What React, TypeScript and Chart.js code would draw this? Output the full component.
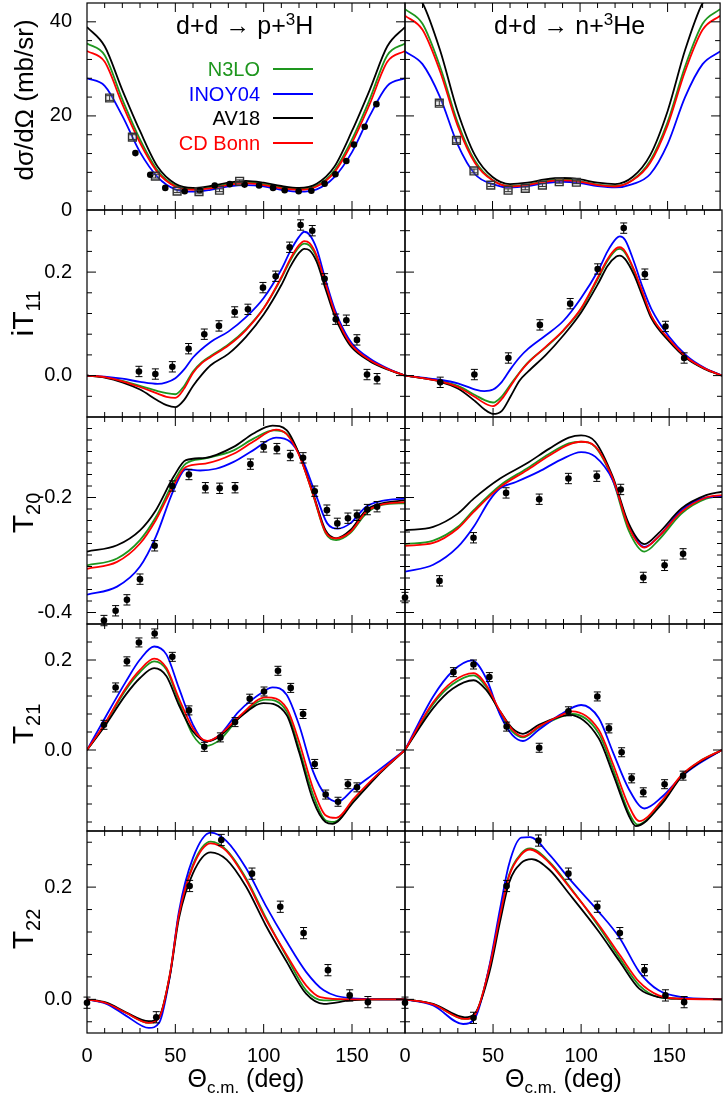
import React, { useEffect, useRef } from "react";
import { Chart, registerables } from "chart.js";

Chart.register(...registerables);

type Pt = [number, number];
type DPt = [number, number, number];
type Part = { t: string; s: number; dy?: number };

const FONT = "'Liberation Sans', Arial, Helvetica, sans-serif";
const COLORS = { n3lo: "#1e961e", inoy: "#0000ff", av18: "#000000", cdb: "#ff0000" };
const MODEL_NAMES = ["N3LO", "INOY04", "AV18", "CD Bonn"];
const MODEL_COLORS = [COLORS.n3lo, COLORS.inoy, COLORS.av18, COLORS.cdb];

// ---------- x axis ----------
const X_MIN = 0;
const X_MAX = 180;
const X_MAJOR = [0, 50, 100, 150];
const X_LABELS = ["0", "50", "100", "150"];
const X_MINOR_STEP = 10;

// ---------- y axes (per row) ----------
const Y_RANGE_XS = [0, 44];
const Y_MAJOR_XS = [0, 20, 40];
const Y_LABELS_XS = ["0", "20", "40"];
const Y_RANGE_IT11 = [-0.08, 0.32];
const Y_MAJOR_IT11 = [0, 0.2];
const Y_LABELS_IT11 = ["0.0", "0.2"];
const Y_RANGE_T20 = [-0.42, -0.06];
const Y_MAJOR_T20 = [-0.4, -0.2];
const Y_LABELS_T20 = ["-0.4", "-0.2"];
const Y_RANGE_T21 = [-0.18, 0.28];
const Y_MAJOR_T21 = [0, 0.2];
const Y_LABELS_T21 = ["0.0", "0.2"];
const Y_RANGE_T22 = [-0.06, 0.3];
const Y_MAJOR_T22 = [0, 0.2];
const Y_LABELS_T22 = ["0.0", "0.2"];

// ---------- cross sections: d+d -> p+3H ----------
const XS_PH_N3LO: Pt[] = [[0,35.4],[10,32.9],[20,23.5],[30,15.0],[40,8.4],[50,5.2],[60,4.5],[70,4.8],[80,5.5],[90,5.9],[100,5.5],[110,4.8],[120,4.5],[130,5.2],[140,8.4],[150,15.0],[160,23.5],[170,32.9],[180,35.4]];
const XS_PH_INOY: Pt[] = [[0,28.0],[10,26.4],[20,20.0],[30,12.3],[40,7.0],[50,4.4],[60,3.9],[70,4.3],[80,5.0],[90,5.3],[100,5.0],[110,4.3],[120,3.9],[130,4.4],[140,7.0],[150,12.3],[160,20.0],[170,26.4],[180,28.0]];
const XS_PH_AV18: Pt[] = [[0,38.9],[10,34.8],[20,25.5],[30,16.8],[40,9.2],[50,5.6],[60,4.7],[70,5.1],[80,5.8],[90,6.2],[100,5.8],[110,5.1],[120,4.7],[130,5.6],[140,9.2],[150,16.8],[160,25.5],[170,34.8],[180,38.9]];
const XS_PH_CDB: Pt[] = [[0,33.8],[10,31.5],[20,22.5],[30,14.3],[40,8.0],[50,5.0],[60,4.3],[70,4.6],[80,5.3],[90,5.7],[100,5.3],[110,4.6],[120,4.3],[130,5.0],[140,8.0],[150,14.3],[160,22.5],[170,31.5],[180,33.8]];
const XS_PH_SQ: DPt[] = [[12.8,23.8,0.5],[25.7,15.5,0.5],[38.7,7.2,0.4],[51,4.0,0.3],[63.4,3.9,0.3],[75,4.2,0.3],[86.4,6.1,0.3]];
const XS_PH_CI: DPt[] = [[27.4,12.1,0],[35.8,7.5,0],[44.3,4.7,0],[55.3,4.0,0],[63.8,4.2,0],[72.3,5.2,0],[80.8,5.5,0],[89.2,5.4,0],[97.4,5.2,0],[105.3,4.7,0],[111.9,4.2,0],[119.8,4.0,0],[127,4.1,0],[134.5,5.6,0],[140.6,7.6,0],[146.8,10.4,0],[151.1,13.9,0],[157.2,17.7,0],[163.8,22.5,0]];

// ---------- cross sections: d+d -> n+3He ----------
const XS_NH_N3LO: Pt[] = [[0,42.7],[10,39.6],[20,30.5],[30,18.7],[40,10.4],[50,6.4],[60,5.1],[70,5.4],[80,6.1],[90,6.5],[100,6.1],[110,5.4],[120,5.1],[130,6.4],[140,10.4],[150,18.7],[160,30.5],[170,39.6],[180,42.7]];
const XS_NH_INOY: Pt[] = [[0,33.7],[10,31.0],[20,24.0],[30,14.0],[40,7.6],[50,5.5],[60,4.8],[70,5.1],[80,5.7],[90,6.0],[100,5.7],[110,5.1],[120,4.8],[130,5.5],[140,7.6],[150,14.0],[160,24.0],[170,31.0],[180,33.7]];
const XS_NH_AV18: Pt[] = [[0,48.0],[10,44.0],[20,34.0],[30,21.0],[40,11.6],[50,7.0],[60,5.5],[70,5.8],[80,6.5],[90,6.8],[100,6.5],[110,5.8],[120,5.5],[130,7.0],[140,11.6],[150,21.0],[160,34.0],[170,44.0],[180,48.0]];
const XS_NH_CDB: Pt[] = [[0,41.3],[10,38.3],[20,29.5],[30,18.0],[40,10.0],[50,6.3],[60,5.0],[70,5.3],[80,6.0],[90,6.3],[100,6.0],[110,5.3],[120,5.0],[130,6.3],[140,10.0],[150,18.0],[160,29.5],[170,38.3],[180,41.3]];
const XS_NH_SQ: DPt[] = [[19.6,22.7,0.5],[29.4,14.8,0.5],[39.4,8.3,0.4],[49,5.3,0.3],[58.9,4.2,0.3],[68.7,4.6,0.3],[78.5,5.3,0.3],[88.1,6.0,0.3],[97.9,5.9,0.3]];

// ---------- iT11: p+3H ----------
const IT11_PH_N3LO: Pt[] = [[0,0],[10,-0.003],[20,-0.010],[30,-0.020],[40,-0.030],[45,-0.034],[50,-0.036],[55,-0.020],[60,0.008],[65,0.026],[70,0.038],[80,0.060],[90,0.090],[100,0.130],[110,0.188],[115,0.222],[120,0.248],[123,0.255],[126,0.251],[130,0.228],[135,0.175],[140,0.122],[145,0.084],[150,0.057],[160,0.030],[170,0.013],[180,0]];
const IT11_PH_INOY: Pt[] = [[0,0],[10,-0.002],[20,-0.006],[30,-0.012],[40,-0.016],[45,-0.013],[50,-0.005],[55,0.012],[60,0.035],[70,0.065],[80,0.085],[90,0.113],[100,0.150],[110,0.205],[115,0.240],[120,0.268],[123,0.278],[126,0.272],[130,0.245],[135,0.185],[140,0.130],[145,0.090],[150,0.062],[160,0.033],[170,0.014],[180,0]];
const IT11_PH_AV18: Pt[] = [[0,0],[10,-0.004],[20,-0.013],[30,-0.027],[40,-0.048],[45,-0.057],[50,-0.061],[55,-0.047],[60,-0.020],[65,0.002],[70,0.020],[80,0.042],[90,0.075],[100,0.118],[110,0.175],[115,0.210],[120,0.237],[123,0.245],[126,0.242],[130,0.220],[135,0.168],[140,0.117],[145,0.080],[150,0.054],[160,0.028],[170,0.012],[180,0]];
const IT11_PH_CDB: Pt[] = [[0,0],[10,-0.003],[20,-0.011],[30,-0.022],[40,-0.035],[45,-0.041],[50,-0.043],[55,-0.025],[60,0.005],[65,0.024],[70,0.036],[80,0.058],[90,0.088],[100,0.130],[110,0.190],[115,0.225],[120,0.252],[123,0.260],[126,0.256],[130,0.232],[135,0.178],[140,0.124],[145,0.085],[150,0.058],[160,0.030],[170,0.013],[180,0]];
const IT11_PH_DATA: DPt[] = [[29.4,0.008,0.01],[38.7,0.003,0.01],[48.3,0.017,0.01],[57.5,0.052,0.01],[66.4,0.080,0.01],[74.7,0.096,0.01],[83.6,0.123,0.01],[91.1,0.128,0.01],[99.6,0.170,0.01],[106.8,0.192,0.01],[114.7,0.248,0.01],[120.9,0.291,0.01],[127.5,0.280,0.01],[134.5,0.187,0.01],[140.8,0.109,0.01],[146.8,0.107,0.01],[152.8,0.069,0.01],[158.5,0.002,0.01],[164.2,-0.006,0.01]];

// ---------- iT11: n+3He ----------
const IT11_NH_N3LO: Pt[] = [[0,0],[10,-0.005],[20,-0.010],[30,-0.020],[40,-0.038],[45,-0.047],[50,-0.052],[55,-0.040],[60,-0.017],[65,0.006],[70,0.026],[80,0.055],[90,0.087],[100,0.128],[110,0.190],[115,0.222],[120,0.243],[122,0.245],[125,0.237],[130,0.203],[135,0.158],[140,0.114],[150,0.069],[160,0.035],[170,0.014],[180,0]];
const IT11_NH_INOY: Pt[] = [[0,0],[10,-0.004],[20,-0.008],[30,-0.015],[40,-0.027],[45,-0.030],[50,-0.027],[55,-0.012],[60,0.013],[65,0.035],[70,0.052],[80,0.078],[90,0.106],[100,0.150],[110,0.205],[115,0.240],[120,0.265],[122,0.269],[125,0.262],[130,0.220],[135,0.170],[140,0.128],[150,0.075],[160,0.038],[170,0.015],[180,0]];
const IT11_NH_AV18: Pt[] = [[0,0],[10,-0.005],[20,-0.012],[30,-0.025],[40,-0.050],[45,-0.065],[50,-0.074],[55,-0.068],[60,-0.040],[65,-0.010],[70,0.008],[80,0.040],[90,0.078],[100,0.122],[110,0.180],[115,0.212],[120,0.230],[122,0.232],[125,0.225],[130,0.195],[135,0.152],[140,0.110],[150,0.066],[160,0.033],[170,0.013],[180,0]];
const IT11_NH_CDB: Pt[] = [[0,0],[10,-0.005],[20,-0.011],[30,-0.022],[40,-0.042],[45,-0.053],[50,-0.059],[55,-0.045],[60,-0.020],[65,0.005],[70,0.025],[80,0.056],[90,0.088],[100,0.130],[110,0.193],[115,0.225],[120,0.246],[122,0.248],[125,0.240],[130,0.205],[135,0.160],[140,0.115],[150,0.070],[160,0.035],[170,0.014],[180,0]];
const IT11_NH_DATA: DPt[] = [[20,-0.013,0.01],[39.4,0.002,0.01],[58.7,0.034,0.01],[76.6,0.098,0.01],[93.8,0.139,0.01],[109.4,0.206,0.01],[124.2,0.285,0.01],[136.2,0.196,0.01],[147.9,0.095,0.01],[158.5,0.034,0.01]];

// ---------- T20: p+3H ----------
const T20_PH_N3LO: Pt[] = [[0,-0.318],[17,-0.306],[30,-0.274],[39,-0.234],[49,-0.173],[56,-0.141],[67,-0.132],[83,-0.118],[94,-0.098],[106,-0.083],[113,-0.089],[120,-0.124],[128,-0.196],[135,-0.262],[141,-0.274],[149,-0.262],[158,-0.228],[167,-0.213],[180,-0.210]];
const T20_PH_INOY: Pt[] = [[0,-0.369],[17,-0.355],[30,-0.320],[39,-0.268],[49,-0.187],[56,-0.151],[64,-0.153],[73,-0.150],[83,-0.138],[94,-0.118],[107,-0.096],[115,-0.103],[122,-0.135],[130,-0.199],[136,-0.245],[142,-0.254],[149,-0.245],[158,-0.216],[167,-0.206],[180,-0.202]];
const T20_PH_AV18: Pt[] = [[0,-0.294],[17,-0.283],[30,-0.257],[39,-0.222],[49,-0.164],[56,-0.135],[67,-0.131],[83,-0.112],[94,-0.089],[105,-0.075],[113,-0.083],[120,-0.124],[128,-0.193],[135,-0.257],[141,-0.271],[149,-0.257],[158,-0.222],[167,-0.210],[180,-0.205]];
const T20_PH_CDB: Pt[] = [[0,-0.324],[17,-0.312],[30,-0.280],[39,-0.239],[49,-0.179],[56,-0.147],[67,-0.141],[83,-0.124],[94,-0.103],[107,-0.082],[113,-0.090],[120,-0.126],[128,-0.195],[135,-0.260],[141,-0.271],[149,-0.260],[158,-0.225],[167,-0.212],[180,-0.208]];
const T20_PH_DATA: DPt[] = [[9.6,-0.414,0.009],[16.2,-0.397,0.009],[22.6,-0.378,0.009],[30,-0.342,0.009],[38.3,-0.284,0.009],[48.3,-0.180,0.009],[57.7,-0.160,0.009],[67,-0.183,0.009],[75.1,-0.184,0.009],[83.8,-0.183,0.009],[92.5,-0.142,0.009],[100,-0.112,0.009],[107.5,-0.115,0.009],[115.1,-0.127,0.009],[122.3,-0.131,0.009],[128.9,-0.189,0.009],[135.8,-0.222,0.009],[141.7,-0.245,0.009],[147.7,-0.236,0.009],[152.8,-0.231,0.009],[158.7,-0.221,0.009],[164.2,-0.216,0.009]];

// ---------- T20: n+3He ----------
const T20_NH_N3LO: Pt[] = [[0,-0.281],[16,-0.275],[30,-0.251],[39,-0.222],[54,-0.179],[69,-0.150],[82,-0.124],[93,-0.106],[100,-0.103],[108,-0.112],[118,-0.170],[127,-0.257],[136,-0.294],[144,-0.274],[157,-0.228],[171,-0.202],[180,-0.198]];
const T20_NH_INOY: Pt[] = [[0,-0.329],[16,-0.317],[30,-0.286],[39,-0.251],[48,-0.205],[54,-0.184],[63,-0.173],[76,-0.155],[88,-0.135],[100,-0.121],[108,-0.129],[118,-0.170],[127,-0.248],[136,-0.286],[144,-0.268],[157,-0.222],[171,-0.200],[180,-0.198]];
const T20_NH_AV18: Pt[] = [[0,-0.257],[16,-0.251],[30,-0.228],[39,-0.202],[54,-0.167],[69,-0.141],[82,-0.115],[93,-0.096],[100,-0.092],[108,-0.103],[118,-0.164],[127,-0.245],[136,-0.281],[144,-0.262],[157,-0.219],[171,-0.196],[180,-0.190]];
const T20_NH_CDB: Pt[] = [[0,-0.284],[16,-0.279],[30,-0.254],[39,-0.225],[54,-0.182],[69,-0.153],[82,-0.127],[93,-0.108],[100,-0.103],[108,-0.111],[118,-0.167],[127,-0.251],[136,-0.287],[144,-0.268],[157,-0.225],[171,-0.200],[180,-0.196]];
const T20_NH_DATA: DPt[] = [[0,-0.374,0.009],[19.6,-0.345,0.009],[38.9,-0.270,0.009],[57.4,-0.192,0.009],[76.2,-0.203,0.009],[92.8,-0.167,0.009],[108.9,-0.163,0.009],[122.5,-0.186,0.009],[135.3,-0.339,0.009],[147.4,-0.318,0.009],[157.9,-0.298,0.009]];

// ---------- T21: p+3H ----------
const T21_PH_N3LO: Pt[] = [[0,0],[9,0.050],[22,0.134],[30,0.173],[38,0.197],[45,0.178],[52,0.108],[60,0.033],[67,0.009],[75,0.022],[86,0.071],[101,0.112],[113,0.086],[120,0.004],[128,-0.100],[135,-0.156],[140,-0.160],[151,-0.112],[164,-0.057],[180,0]];
const T21_PH_INOY: Pt[] = [[0,0],[9,0.063],[22,0.152],[30,0.201],[38,0.230],[45,0.212],[52,0.138],[60,0.056],[67,0.019],[75,0.033],[86,0.086],[100,0.130],[105,0.139],[113,0.123],[120,0.056],[128,-0.048],[135,-0.100],[142,-0.115],[151,-0.086],[164,-0.048],[180,0]];
const T21_PH_AV18: Pt[] = [[0,0],[9,0.047],[22,0.123],[30,0.160],[38,0.182],[45,0.164],[52,0.100],[60,0.041],[68,0.019],[75,0.030],[86,0.071],[100,0.104],[113,0.078],[120,-0.004],[128,-0.112],[135,-0.160],[139,-0.164],[151,-0.115],[164,-0.059],[180,0]];
const T21_PH_CDB: Pt[] = [[0,0],[9,0.052],[22,0.138],[30,0.178],[38,0.203],[45,0.182],[52,0.115],[60,0.048],[68,0.020],[75,0.033],[86,0.074],[101,0.117],[113,0.093],[120,0.019],[128,-0.086],[135,-0.145],[141,-0.151],[151,-0.108],[164,-0.056],[180,0]];
const T21_PH_DATA: DPt[] = [[9.6,0.056,0.01],[16.2,0.139,0.01],[22.6,0.197,0.01],[29.4,0.239,0.01],[38.3,0.259,0.01],[48.3,0.207,0.01],[57.7,0.088,0.01],[66.4,0.007,0.01],[75.5,0.028,0.01],[83.8,0.062,0.01],[92.1,0.114,0.01],[100.2,0.130,0.01],[108.1,0.176,0.01],[115.3,0.138,0.01],[122.3,0.080,0.01],[128.9,-0.031,0.01],[135.1,-0.099,0.01],[142.1,-0.115,0.01],[147.7,-0.076,0.01],[152.8,-0.083,0.01]];

// ---------- T21: n+3He ----------
const T21_NH_N3LO: Pt[] = [[0,0],[16,0.102],[27,0.146],[39,0.166],[46,0.141],[54,0.082],[61,0.041],[67,0.028],[76,0.050],[88,0.073],[95,0.080],[110,0.037],[118,-0.041],[127,-0.138],[132,-0.166],[146,-0.115],[157,-0.057],[167,-0.026],[180,0]];
const T21_NH_INOY: Pt[] = [[0,0],[16,0.119],[27,0.175],[38,0.199],[46,0.160],[54,0.078],[61,0.033],[67,0.020],[76,0.045],[88,0.078],[100,0.100],[110,0.071],[118,-0.004],[127,-0.086],[136,-0.130],[146,-0.104],[157,-0.059],[167,-0.030],[180,0]];
const T21_NH_AV18: Pt[] = [[0,0],[16,0.093],[27,0.136],[39,0.155],[46,0.134],[54,0.086],[61,0.048],[67,0.036],[76,0.056],[88,0.074],[93,0.078],[110,0.026],[118,-0.052],[127,-0.145],[131,-0.169],[146,-0.119],[157,-0.059],[167,-0.028],[180,0]];
const T21_NH_CDB: Pt[] = [[0,0],[16,0.106],[27,0.152],[39,0.171],[46,0.145],[54,0.086],[61,0.045],[67,0.030],[76,0.052],[88,0.076],[95,0.086],[110,0.045],[118,-0.030],[127,-0.123],[133,-0.158],[146,-0.112],[157,-0.056],[167,-0.026],[180,0]];
const T21_NH_DATA: DPt[] = [[27.5,0.173,0.01],[38.9,0.190,0.01],[47.9,0.162,0.01],[57.7,0.052,0.01],[76.2,0.005,0.01],[92.8,0.086,0.01],[109.2,0.119,0.01],[115.8,0.048,0.01],[123,-0.005,0.01],[128.7,-0.063,0.01],[135.3,-0.094,0.01],[147.4,-0.076,0.01],[157.9,-0.057,0.01]];

// ---------- T22: p+3H ----------
const T22_PH_N3LO: Pt[] = [[0,0],[11,-0.007],[22,-0.024],[35,-0.042],[41,-0.032],[47,0.046],[52,0.150],[60,0.240],[70,0.281],[79,0.266],[90,0.216],[101,0.147],[113,0.076],[124,0.016],[134,-0.002],[149,0],[180,0]];
const T22_PH_INOY: Pt[] = [[0,0],[11,-0.008],[22,-0.029],[35,-0.051],[41,-0.041],[47,0.043],[52,0.156],[60,0.252],[70,0.297],[79,0.282],[90,0.234],[101,0.168],[113,0.103],[124,0.049],[134,0.016],[149,0.002],[165,0],[180,0]];
const T22_PH_AV18: Pt[] = [[0,0],[11,-0.006],[22,-0.023],[35,-0.039],[41,-0.030],[47,0.043],[52,0.144],[60,0.225],[70,0.262],[79,0.249],[90,0.201],[101,0.133],[113,0.067],[124,0.010],[134,-0.008],[149,-0.002],[165,0],[180,0]];
const T22_PH_CDB: Pt[] = [[0,0],[11,-0.007],[22,-0.024],[35,-0.042],[41,-0.032],[47,0.046],[52,0.150],[60,0.237],[70,0.278],[79,0.264],[90,0.213],[101,0.144],[113,0.079],[124,0.025],[132,0.004],[149,0],[180,0]];
const T22_PH_DATA: DPt[] = [[0,-0.006,0.01],[39.2,-0.032,0.01],[58.1,0.202,0.01],[76,0.284,0.01],[93.4,0.224,0.01],[109.4,0.165,0.01],[122.6,0.118,0.01],[136.4,0.052,0.01],[148.7,0.007,0.01],[159,-0.005,0.01]];

// ---------- T22: n+3He ----------
const T22_NH_N3LO: Pt[] = [[0,0],[16,-0.009],[34,-0.035],[40,-0.026],[48,0.058],[54,0.150],[59,0.221],[66,0.260],[71,0.269],[82,0.245],[93,0.203],[110,0.130],[122,0.073],[133,0.025],[144,0.004],[157,0.001],[180,0]];
const T22_NH_INOY: Pt[] = [[0,0],[16,-0.011],[33,-0.044],[40,-0.032],[48,0.061],[54,0.162],[59,0.240],[66,0.288],[71,0.289],[82,0.258],[93,0.216],[110,0.156],[122,0.109],[133,0.049],[144,0.016],[157,0.004],[180,0]];
const T22_NH_AV18: Pt[] = [[0,0],[16,-0.008],[34,-0.032],[40,-0.024],[48,0.049],[54,0.139],[59,0.207],[66,0.243],[72,0.250],[82,0.231],[93,0.189],[110,0.121],[122,0.067],[133,0.019],[144,0.004],[157,0.001],[180,0]];
const T22_NH_CDB: Pt[] = [[0,0],[16,-0.009],[34,-0.035],[40,-0.026],[48,0.058],[54,0.150],[59,0.219],[66,0.258],[71,0.267],[82,0.243],[93,0.201],[110,0.133],[122,0.079],[133,0.031],[144,0.007],[157,0.001],[180,0]];
const T22_NH_DATA: DPt[] = [[0,-0.006,0.01],[38.9,-0.033,0.01],[57.7,0.202,0.01],[75.8,0.283,0.01],[92.8,0.224,0.01],[109.2,0.165,0.01],[122,0.118,0.01],[136,0.052,0.01],[147.9,0.007,0.01],[158.5,-0.005,0.01]];

// ---------- texts ----------
const TITLE_PH: Part[] = [{ t: "d+d \u2192 p+", s: 25 }, { t: "3", s: 17, dy: -9 }, { t: "H", s: 25 }];
const TITLE_NH: Part[] = [{ t: "d+d \u2192 n+", s: 25 }, { t: "3", s: 17, dy: -9 }, { t: "He", s: 25 }];
const YT_XS: Part[] = [{ t: "d\u03c3/d\u03a9 (mb/sr)", s: 26 }];
const YT_IT11: Part[] = [{ t: "iT", s: 30 }, { t: "11", s: 20, dy: 7 }];
const YT_T20: Part[] = [{ t: "T", s: 30 }, { t: "20", s: 20, dy: 7 }];
const YT_T21: Part[] = [{ t: "T", s: 30 }, { t: "21", s: 20, dy: 7 }];
const YT_T22: Part[] = [{ t: "T", s: 30 }, { t: "22", s: 20, dy: 7 }];
const XT: Part[] = [{ t: "\u0398", s: 25 }, { t: "c.m.", s: 17, dy: 6 }, { t: " (deg)", s: 25 }];

// ---------- layout ----------
const COL_X0 = [87, 405];
const COL_X1 = [405, 722];
const ROW_Y0 = [3, 210, 417, 624, 831];
const ROW_Y1 = [210, 417, 624, 831, 1033];
const PAGE_W = 727;
const PAGE_H = 1101;
const YTITLE_DY = [-6.5, 0, -7.5, -3.5, -3];

interface PanelDef {
  row: number;
  col: number;
  range: number[];
  major: number[];
  labels: string[];
  minor: number;
  curves: { n3lo: Pt[]; inoy: Pt[]; av18: Pt[]; cdb: Pt[] };
  squares?: DPt[];
  circles?: DPt[];
  yTitle?: Part[];
  title?: Part[];
  legend?: boolean;
}

const PANELS: PanelDef[] = [
  { row: 0, col: 0, range: Y_RANGE_XS, major: Y_MAJOR_XS, labels: Y_LABELS_XS, minor: 4,
    curves: { n3lo: XS_PH_N3LO, inoy: XS_PH_INOY, av18: XS_PH_AV18, cdb: XS_PH_CDB },
    squares: XS_PH_SQ, circles: XS_PH_CI, yTitle: YT_XS, title: TITLE_PH, legend: true },
  { row: 0, col: 1, range: Y_RANGE_XS, major: Y_MAJOR_XS, labels: Y_LABELS_XS, minor: 4,
    curves: { n3lo: XS_NH_N3LO, inoy: XS_NH_INOY, av18: XS_NH_AV18, cdb: XS_NH_CDB },
    squares: XS_NH_SQ, title: TITLE_NH },
  { row: 1, col: 0, range: Y_RANGE_IT11, major: Y_MAJOR_IT11, labels: Y_LABELS_IT11, minor: 0.04,
    curves: { n3lo: IT11_PH_N3LO, inoy: IT11_PH_INOY, av18: IT11_PH_AV18, cdb: IT11_PH_CDB },
    circles: IT11_PH_DATA, yTitle: YT_IT11 },
  { row: 1, col: 1, range: Y_RANGE_IT11, major: Y_MAJOR_IT11, labels: Y_LABELS_IT11, minor: 0.04,
    curves: { n3lo: IT11_NH_N3LO, inoy: IT11_NH_INOY, av18: IT11_NH_AV18, cdb: IT11_NH_CDB },
    circles: IT11_NH_DATA },
  { row: 2, col: 0, range: Y_RANGE_T20, major: Y_MAJOR_T20, labels: Y_LABELS_T20, minor: 0.02,
    curves: { n3lo: T20_PH_N3LO, inoy: T20_PH_INOY, av18: T20_PH_AV18, cdb: T20_PH_CDB },
    circles: T20_PH_DATA, yTitle: YT_T20 },
  { row: 2, col: 1, range: Y_RANGE_T20, major: Y_MAJOR_T20, labels: Y_LABELS_T20, minor: 0.02,
    curves: { n3lo: T20_NH_N3LO, inoy: T20_NH_INOY, av18: T20_NH_AV18, cdb: T20_NH_CDB },
    circles: T20_NH_DATA },
  { row: 3, col: 0, range: Y_RANGE_T21, major: Y_MAJOR_T21, labels: Y_LABELS_T21, minor: 0.04,
    curves: { n3lo: T21_PH_N3LO, inoy: T21_PH_INOY, av18: T21_PH_AV18, cdb: T21_PH_CDB },
    circles: T21_PH_DATA, yTitle: YT_T21 },
  { row: 3, col: 1, range: Y_RANGE_T21, major: Y_MAJOR_T21, labels: Y_LABELS_T21, minor: 0.04,
    curves: { n3lo: T21_NH_N3LO, inoy: T21_NH_INOY, av18: T21_NH_AV18, cdb: T21_NH_CDB },
    circles: T21_NH_DATA },
  { row: 4, col: 0, range: Y_RANGE_T22, major: Y_MAJOR_T22, labels: Y_LABELS_T22, minor: 0.04,
    curves: { n3lo: T22_PH_N3LO, inoy: T22_PH_INOY, av18: T22_PH_AV18, cdb: T22_PH_CDB },
    circles: T22_PH_DATA, yTitle: YT_T22 },
  { row: 4, col: 1, range: Y_RANGE_T22, major: Y_MAJOR_T22, labels: Y_LABELS_T22, minor: 0.04,
    curves: { n3lo: T22_NH_N3LO, inoy: T22_NH_INOY, av18: T22_NH_AV18, cdb: T22_NH_CDB },
    circles: T22_NH_DATA },
];

function partsWidth(ctx: CanvasRenderingContext2D, parts: Part[]) {
  let w = 0;
  for (const p of parts) {
    ctx.font = `${p.s}px ${FONT}`;
    w += ctx.measureText(p.t).width;
  }
  return w;
}

function drawParts(ctx: CanvasRenderingContext2D, parts: Part[], x: number, y: number) {
  let cx = x;
  for (const p of parts) {
    ctx.font = `${p.s}px ${FONT}`;
    ctx.fillText(p.t, cx, y + (p.dy || 0));
    cx += ctx.measureText(p.t).width;
  }
}

function geom(def: PanelDef) {
  const left = def.col === 0 ? 0 : 398;
  const width = def.col === 0 ? 412 : PAGE_W - 398;
  const top = ROW_Y0[def.row] - 8;
  const bottom = def.row === 4 ? PAGE_H : ROW_Y1[def.row] + 8;
  return { left, width, top, height: bottom - top };
}

function makeDecor(def: PanelDef) {
  return {
    id: "decor",
    afterDatasetsDraw(chart: any) {
      const ctx: CanvasRenderingContext2D = chart.ctx;
      const ys = chart.scales.y;
      ctx.save();
      ctx.lineWidth = 1;
      chart.data.datasets.forEach((ds: any, i: number) => {
        if (!ds.errs) return;
        const meta = chart.getDatasetMeta(i);
        meta.data.forEach((el: any, j: number) => {
          const e = ds.errs[j];
          if (!e) return;
          const v = ds.data[j].y;
          const y1 = ys.getPixelForValue(v + e);
          const y2 = ys.getPixelForValue(v - e);
          ctx.strokeStyle = ds.errColor || "#000";
          ctx.beginPath();
          ctx.moveTo(el.x, y1);
          ctx.lineTo(el.x, y2);
          ctx.moveTo(el.x - 3.5, y1);
          ctx.lineTo(el.x + 3.5, y1);
          ctx.moveTo(el.x - 3.5, y2);
          ctx.lineTo(el.x + 3.5, y2);
          ctx.stroke();
        });
      });
      ctx.restore();
    },
    afterDraw(chart: any) {
      const ctx: CanvasRenderingContext2D = chart.ctx;
      const { left, right, top, bottom } = chart.chartArea;
      const xs = chart.scales.x;
      const ys = chart.scales.y;
      ctx.save();
      ctx.strokeStyle = "#000";
      ctx.lineWidth = 1.2;
      ctx.strokeRect(left, top, right - left, bottom - top);
      ctx.lineWidth = 1;
      ctx.beginPath();
      for (let v = X_MIN + X_MINOR_STEP; v < X_MAX; v += X_MINOR_STEP) {
        const px = xs.getPixelForValue(v);
        const len = X_MAJOR.includes(v) ? 9 : 5;
        ctx.moveTo(px, bottom);
        ctx.lineTo(px, bottom - len);
        ctx.moveTo(px, top);
        ctx.lineTo(px, top + len);
      }
      const [yMin, yMax] = def.range;
      const i0 = Math.ceil(yMin / def.minor - 1e-6);
      const i1 = Math.floor(yMax / def.minor + 1e-6);
      for (let i = i0; i <= i1; i++) {
        const v = i * def.minor;
        if (Math.abs(v - yMin) < 1e-6 || Math.abs(v - yMax) < 1e-6) continue;
        const py = ys.getPixelForValue(v);
        const len = def.major.some((m) => Math.abs(m - v) < 1e-6) ? 9 : 5;
        ctx.moveTo(left, py);
        ctx.lineTo(left + len, py);
        ctx.moveTo(right, py);
        ctx.lineTo(right - len, py);
      }
      ctx.stroke();

      ctx.fillStyle = "#000";
      ctx.textBaseline = "alphabetic";
      ctx.textAlign = "left";
      if (def.title) {
        drawParts(ctx, def.title, left + 89, top + 31);
      }
      if (def.yTitle) {
        const w = partsWidth(ctx, def.yTitle);
        const cy = (top + bottom) / 2 + YTITLE_DY[def.row];
        ctx.save();
        ctx.translate(left - 54, cy);
        ctx.rotate(-Math.PI / 2);
        drawParts(ctx, def.yTitle, -w / 2, 0);
        ctx.restore();
      }
      if (def.legend) {
        const rows = [66, 91, 115, 140];
        ctx.font = `20px ${FONT}`;
        ctx.textAlign = "right";
        ctx.textBaseline = "middle";
        MODEL_NAMES.forEach((name, k) => {
          const y = top + rows[k];
          ctx.fillStyle = MODEL_COLORS[k];
          ctx.fillText(name, left + 173, y + 1);
          ctx.strokeStyle = MODEL_COLORS[k];
          ctx.lineWidth = 1.8;
          ctx.beginPath();
          ctx.moveTo(left + 186, y);
          ctx.lineTo(left + 226, y);
          ctx.stroke();
        });
        ctx.textAlign = "left";
        ctx.textBaseline = "alphabetic";
      }
      if (def.row === 4) {
        ctx.fillStyle = "#000";
        const w = partsWidth(ctx, XT);
        drawParts(ctx, XT, (left + right) / 2 - w / 2, bottom + 54);
      }
      ctx.restore();
    },
  };
}

function Panel({ def }: { def: PanelDef }) {
  const ref = useRef<HTMLCanvasElement>(null);
  const g = geom(def);
  useEffect(() => {
    const isLeft = def.col === 0;
    const isBottom = def.row === 4;
    const toXY = (arr: (Pt | DPt)[]) => arr.map((p) => ({ x: p[0], y: p[1] }));
    const curve = (pts: Pt[], color: string) => ({
      data: toXY(pts),
      borderColor: color,
      backgroundColor: color,
      borderWidth: 1.8,
      pointRadius: 0,
      fill: false,
      cubicInterpolationMode: "monotone",
    });
    const datasets: any[] = [];
    if (def.circles) {
      datasets.push({
        data: toXY(def.circles),
        errs: def.circles.map((d) => d[2]),
        showLine: false,
        pointRadius: 3.3,
        pointBackgroundColor: "#000",
        pointBorderColor: "#000",
        pointBorderWidth: 0,
        clip: false,
      });
    }
    if (def.squares) {
      datasets.push({
        data: toXY(def.squares),
        errs: def.squares.map((d) => d[2]),
        errColor: "#333",
        showLine: false,
        pointStyle: "rect",
        pointRadius: 5.5,
        pointBackgroundColor: "rgba(180,180,180,0.25)",
        pointBorderColor: "#333",
        pointBorderWidth: 1.4,
        clip: false,
      });
    }
    datasets.push(curve(def.curves.cdb, COLORS.cdb));
    datasets.push(curve(def.curves.av18, COLORS.av18));
    datasets.push(curve(def.curves.inoy, COLORS.inoy));
    datasets.push(curve(def.curves.n3lo, COLORS.n3lo));

    const padLeft = isLeft ? 0 : COL_X0[1] - g.left;
    const padRight = g.left + g.width - COL_X1[def.col];
    const zeroPad = (s: any) => {
      s.paddingTop = 0;
      s.paddingBottom = 0;
      s.paddingLeft = 0;
      s.paddingRight = 0;
    };
    const chart = new Chart(ref.current as HTMLCanvasElement, {
      type: "line",
      data: { datasets },
      options: {
        animation: false,
        responsive: false,
        devicePixelRatio: 1,
        events: [],
        layout: { padding: { left: padLeft, right: padRight, top: 8, bottom: isBottom ? 0 : 8 } },
        plugins: { legend: { display: false }, tooltip: { enabled: false }, title: { display: false } },
        scales: {
          x: {
            type: "linear",
            min: X_MIN,
            max: X_MAX,
            grid: { display: false, drawTicks: false },
            border: { display: false },
            ticks: {
              display: isBottom,
              autoSkip: false,
              maxRotation: 0,
              padding: 11,
              color: "#000",
              font: { family: FONT, size: 20 },
              callback: (_v: any, i: number) => X_LABELS[i],
            },
            afterBuildTicks: (s: any) => {
              s.ticks = X_MAJOR.map((v) => ({ value: v }));
            },
            afterFit: (s: any) => {
              s.height = isBottom ? PAGE_H - ROW_Y1[4] : 0;
              zeroPad(s);
            },
          },
          y: {
            type: "linear",
            min: def.range[0],
            max: def.range[1],
            grid: { display: false, drawTicks: false },
            border: { display: false },
            ticks: {
              display: isLeft,
              padding: 15,
              color: "#000",
              font: { family: FONT, size: 20 },
              callback: (_v: any, i: number) => def.labels[i],
            },
            afterBuildTicks: (s: any) => {
              s.ticks = def.major.map((v) => ({ value: v }));
            },
            afterFit: (s: any) => {
              s.width = isLeft ? COL_X0[0] : 0;
              zeroPad(s);
            },
          },
        },
      } as any,
      plugins: [makeDecor(def)],
    });
    return () => chart.destroy();
  }, []);
  return (
    <canvas
      ref={ref}
      width={g.width}
      height={g.height}
      style={{ position: "absolute", left: g.left, top: g.top, width: g.width, height: g.height, display: "block" }}
    />
  );
}

export default function App() {
  return (
    <div style={{ position: "absolute", left: 0, top: 0, width: PAGE_W, height: PAGE_H, background: "#fff", overflow: "hidden" }}>
      {PANELS.map((p, i) => (
        <Panel key={i} def={p} />
      ))}
    </div>
  );
}
